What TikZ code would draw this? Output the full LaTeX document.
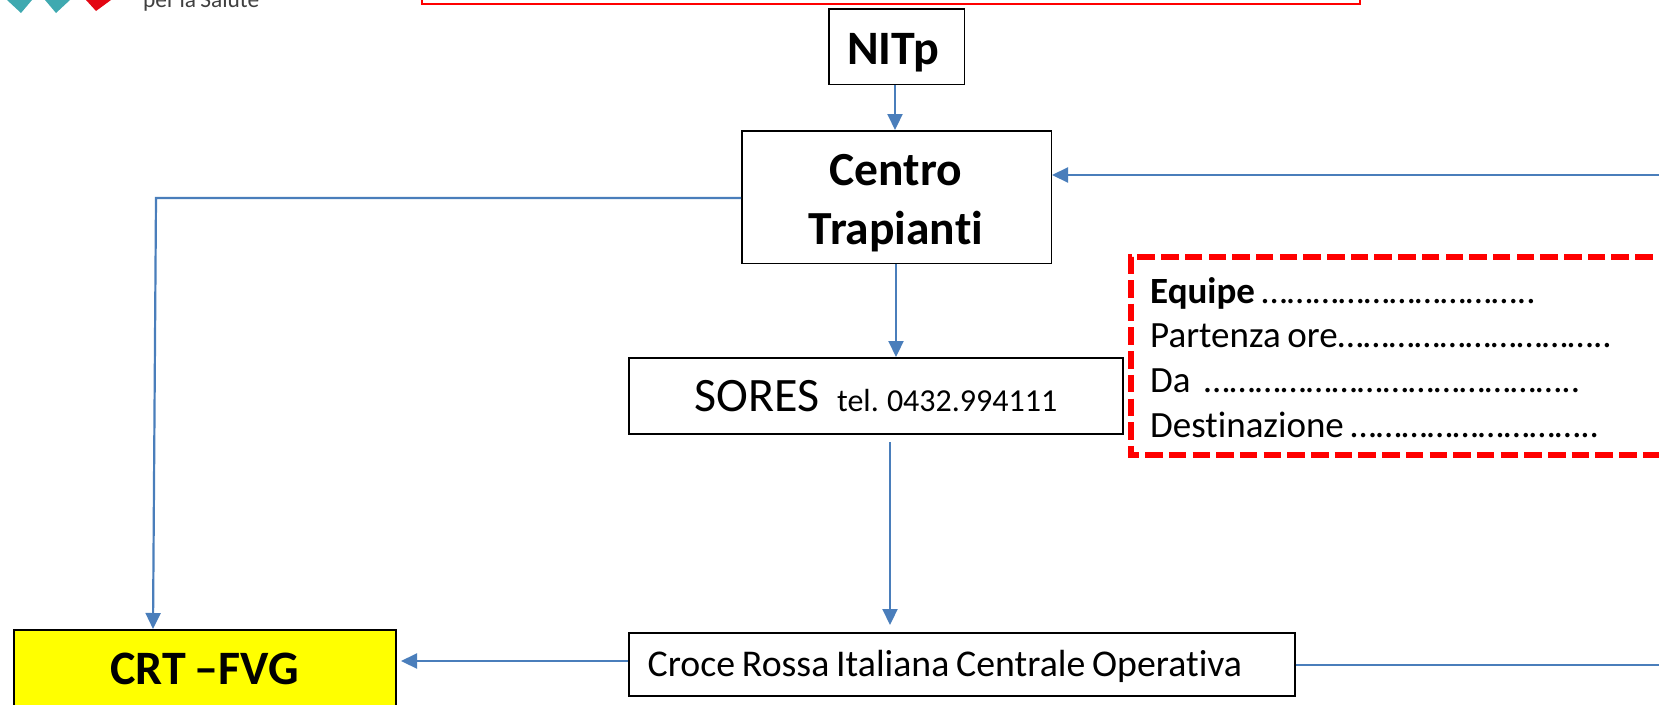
\documentclass[tikz,border=0pt]{standalone}
\usepackage{fontspec}
\setmainfont{Carlito}[Ligatures=NoCommon,WordSpace=0.8]
\usetikzlibrary{arrows.meta}
\definecolor{linkblue}{HTML}{4A7EBB}
\definecolor{teal}{HTML}{3FA9B0}
\definecolor{logored}{HTML}{E30613}
\definecolor{pureyellow}{HTML}{FFFF00}
\definecolor{purered}{HTML}{FF0000}
\tikzset{
  box/.style={draw=black,line width=1.5pt,fill=white,inner sep=0pt,anchor=north west},
  link/.style={draw=linkblue,line width=2.2pt,-{Triangle[length=16pt,width=15pt]}},
  plain/.style={draw=linkblue,line width=2.2pt},
  txt/.style={inner sep=0pt,anchor=base west,text=black},
}
\newcommand{\fsz}[1]{\fontsize{#1}{#1}\selectfont}
\begin{document}
\begin{tikzpicture}[x=1pt,y=-1pt]
\useasboundingbox (0,0) rectangle (1659,704);
\clip (0,0) rectangle (1659,704);
% logo
\fill[teal] (7,0) -- (32,0) -- (21,13) -- cycle;
\fill[teal] (45,0) -- (70,0) -- (56,13) -- cycle;
\fill[logored] (86,0) -- (111,0) -- (96,11) -- cycle;
\node[txt,text=black!75] (logotext) at (143,7) {\fsz{23.4}per la Salute};
% title frame
\draw[draw=purered,line width=1.5pt] (422,-10) rectangle (1360,4);
% boxes
\node[box,minimum width=135.5pt,minimum height=75.5pt] (nitp) at (828,8) {};
\node[txt,anchor=base,font=\fsz{48}\bfseries] (nitplabel) at (893,64) {NITp};
\node[box,minimum width=309.5pt,minimum height=132.5pt] (centro) at (741,130) {};
\node[txt,anchor=base,font=\fsz{47.5}\bfseries] (c1) at (896,185) {Centro};
\node[txt,anchor=base,font=\fsz{47.5}\bfseries] (c2) at (896,244) {Trapianti};
\node[box,minimum width=494pt,minimum height=76pt] (sores) at (628,357) {\fsz{48}SORES\hspace{18pt}\fsz{32}tel. 0432.994111};
\node[box,minimum width=666pt,minimum height=63pt] (croce) at (628,632) {};
\node[txt,font=\fsz{37.8}] (crocelabel) at (647.5,676) {Croce Rossa Italiana Centrale Operativa};
\node[box,fill=pureyellow,minimum width=382pt,minimum height=100pt] (crt) at (13,629) {};
\node[txt,font=\fsz{48}\bfseries,anchor=base] (crtlabel) at (204.5,684) {CRT –FVG};
% dashed box
\draw[draw=purered,line width=6pt,dash pattern=on 17.5pt off 6.2pt] (1700,257) -- (1130.5,257) -- (1130.5,455) -- (1700,455);
\node[txt,font=\fsz{37}] (l1) at (1150,303) {\textbf{Equipe} …………………………..};
\node[txt,font=\fsz{37}] (l2) at (1150,347) {Partenza ore…………………………..};
\node[txt,font=\fsz{37}] (l3) at (1150,392) {Da\ \ ……………………………………..};
\node[txt,font=\fsz{37}] (l4) at (1150,437.5) {Destinazione ………………………..};
% free ends
\coordinate (eastTop) at (1659,175);
\coordinate (eastBot) at (1659,665);
\coordinate (soresOut) at (890,442);
\coordinate (crtIn) at (153,629);
\coordinate (bendA) at (156,198);
\coordinate (crtGap) at (401,661);
% connectors
\draw[link] (nitp.south -| 895,0) -- (centro.north -| 895,0);
\draw[link] (centro.south -| 896,0) -- (sores.north -| 896,0);
\draw[link] (soresOut) -- (890,625);
\draw[link] (croce.west |- crtGap) -- (crtGap);
\draw[plain] (croce.east |- eastBot) -- (eastBot);
\draw[link] (eastTop) -- (centro.east |- eastTop);
\draw[link] (centro.west |- bendA) -- (bendA) -- (crtIn);
\end{tikzpicture}
\end{document}
